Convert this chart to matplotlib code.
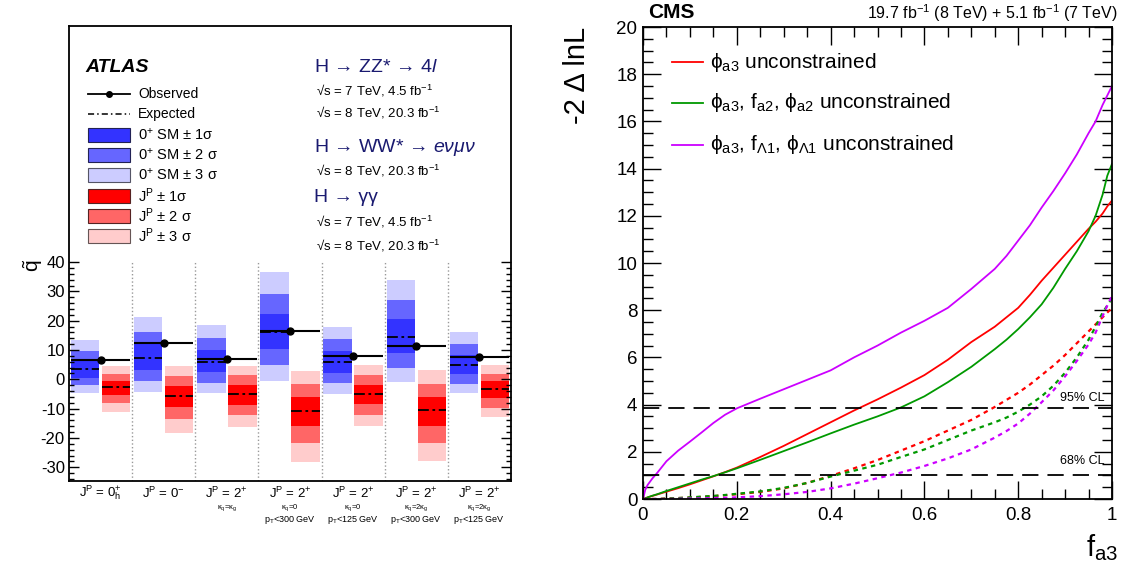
import numpy as np
import matplotlib
matplotlib.use("Agg")
import matplotlib.pyplot as plt
from matplotlib.patches import Rectangle
from matplotlib.lines import Line2D
from matplotlib.ticker import FixedLocator, MultipleLocator, FuncFormatter

plt.rcParams['font.family'] = ['Liberation Sans', 'DejaVu Sans']
plt.rcParams['mathtext.fontset'] = 'custom'
plt.rcParams['mathtext.rm'] = 'Liberation Sans'
plt.rcParams['mathtext.it'] = 'Liberation Sans:italic'
plt.rcParams['mathtext.bf'] = 'Liberation Sans:bold'
plt.rcParams['mathtext.sf'] = 'Liberation Sans'
plt.rcParams['mathtext.default'] = 'regular'
plt.rcParams['axes.unicode_minus'] = False

# ---- left panel data (ATLAS q~ per spin/parity hypothesis) ----
main_labels = [r'J$^{P}$ = 0$^{+}_{h}$', r'J$^{P}$ = 0$^{-}$', r'J$^{P}$ = 2$^{+}$',
               r'J$^{P}$ = 2$^{+}$', r'J$^{P}$ = 2$^{+}$', r'J$^{P}$ = 2$^{+}$', r'J$^{P}$ = 2$^{+}$']
sub_labels1 = ['', '', r'κ$_{q}$=κ$_{g}$', r'κ$_{q}$=0', r'κ$_{q}$=0', r'κ$_{q}$=2κ$_{g}$', r'κ$_{q}$=2κ$_{g}$']
sub_labels2 = ['', '', '', r'p$_{T}$<300 GeV', r'p$_{T}$<125 GeV', r'p$_{T}$<300 GeV', r'p$_{T}$<125 GeV']

observed = [6.5, 12.3, 7.1, 16.5, 8.1, 11.5, 7.7]
exp_sm = [3.5, 7.4, 5.9, 16.3, 6.0, 14.6, 4.9]
sm_3s_hi = [13.4, 21.3, 18.5, 36.6, 17.9, 33.9, 16.2]
sm_3s_lo = [-4.6, -4.2, -4.6, -0.5, -5.0, -0.8, -4.6]
sm_2s_hi = [9.7, 16.2, 14.1, 29.1, 13.8, 27.1, 12.1]
sm_2s_lo = [-1.9, -0.6, -1.3, 4.9, -1.1, 4.0, -1.6]
sm_1s_hi = [6.8, 12.0, 10.0, 22.3, 9.7, 20.6, 8.3]
sm_1s_lo = [0.6, 3.2, 2.5, 10.4, 2.2, 9.1, 1.7]

exp_alt = [-2.7, -5.6, -5.1, -10.7, -4.9, -10.6, -3.4]
alt_3s_hi = [4.6, 4.6, 4.6, 2.8, 4.9, 3.2, 4.9]
alt_3s_lo = [-11.1, -18.2, -16.2, -28.2, -15.9, -27.8, -12.7]
alt_2s_hi = [1.8, 1.1, 1.5, -1.6, 1.5, -1.6, 1.8]
alt_2s_lo = [-8.2, -13.5, -12.1, -21.6, -12.1, -21.6, -9.8]
alt_1s_hi = [-0.6, -2.3, -1.9, -5.9, -1.9, -5.9, -0.6]
alt_1s_lo = [-5.3, -9.3, -8.6, -15.8, -8.4, -15.8, -6.5]

# ---- right panel data (CMS -2 Delta lnL vs f_a3) ----
f_a3 = [0, 0.005, 0.01, 0.02, 0.03, 0.05, 0.075, 0.1, 0.125, 0.15, 0.175, 0.2, 0.25, 0.3,
        0.35, 0.4, 0.45, 0.5, 0.55, 0.6, 0.65, 0.7, 0.75, 0.775, 0.8, 0.825, 0.85, 0.875,
        0.9, 0.925, 0.95, 0.965, 0.98, 0.99, 1.0]
obs_phi = [0, 0.03, 0.07, 0.13, 0.19, 0.31, 0.46, 0.62, 0.79, 0.96, 1.14, 1.33, 1.78, 2.25,
           2.75, 3.25, 3.75, 4.22, 4.72, 5.25, 5.9, 6.65, 7.3, 7.7, 8.1, 8.65, 9.25, 9.8,
           10.35, 10.9, 11.45, 11.75, 12.1, 12.4, 12.65]
obs_fa2 = [0, 0.03, 0.07, 0.14, 0.2, 0.34, 0.5, 0.66, 0.82, 0.97, 1.13, 1.3, 1.66, 2.03,
           2.4, 2.78, 3.15, 3.5, 3.88, 4.35, 4.95, 5.6, 6.35, 6.75, 7.2, 7.7, 8.25, 8.95,
           9.75, 10.5, 11.35, 12.0, 12.9, 13.7, 14.2]
obs_fL1 = [0, 0.4, 0.6, 0.87, 1.1, 1.6, 2.05, 2.43, 2.82, 3.22, 3.57, 3.84, 4.25, 4.65,
           5.05, 5.45, 6.0, 6.5, 7.05, 7.55, 8.1, 8.9, 9.75, 10.3, 10.95, 11.6, 12.35, 13.05,
           13.8, 14.6, 15.5, 16.0, 16.7, 17.1, 17.5]
exp_phi = [0, 0, 0, 0, 0, 0.02, 0.04, 0.06, 0.09, 0.12, 0.16, 0.2, 0.3, 0.45,
           0.68, 0.98, 1.3, 1.65, 2.05, 2.45, 2.9, 3.35, 3.9, 4.2, 4.5, 4.85, 5.25, 5.65,
           6.1, 6.6, 7.1, 7.4, 7.7, 7.9, 8.1]
exp_fa2 = [0, 0, 0, 0, 0, 0.02, 0.04, 0.07, 0.1, 0.13, 0.17, 0.22, 0.32, 0.47,
           0.68, 0.95, 1.2, 1.45, 1.78, 2.1, 2.5, 2.9, 3.25, 3.45, 3.7, 4.0, 4.35, 4.8,
           5.35, 6.0, 6.75, 7.3, 7.9, 8.2, 8.5]
exp_fL1 = [0, 0, 0, 0, 0, 0, 0.01, 0.02, 0.03, 0.04, 0.05, 0.07, 0.12, 0.2,
           0.3, 0.45, 0.65, 0.88, 1.12, 1.4, 1.72, 2.1, 2.6, 2.88, 3.2, 3.62, 4.1, 4.6,
           5.2, 5.85, 6.55, 7.05, 7.75, 8.2, 8.6]

W, H = 1131, 569
def fx(px):
    return px / W
def fy(py):
    return 1 - py / H

fig = plt.figure(figsize=(11.31, 5.69), dpi=100)

# ================= left panel =================
ax1 = fig.add_axes([fx(69), fy(481), fx(511) - fx(69), fy(26) - fy(481)])
x = np.arange(len(observed))
blue = ['#ccccff', '#6666ff', '#3333ff']
red = ['#ffcccc', '#ff6666', '#ff0000']

for hi, lo, c in [(sm_3s_hi, sm_3s_lo, blue[0]), (sm_2s_hi, sm_2s_lo, blue[1]), (sm_1s_hi, sm_1s_lo, blue[2])]:
    ax1.bar(x + 0.255, np.array(hi) - np.array(lo), bottom=lo, width=0.45, color=c, lw=0)
for hi, lo, c in [(alt_3s_hi, alt_3s_lo, red[0]), (alt_2s_hi, alt_2s_lo, red[1]), (alt_1s_hi, alt_1s_lo, red[2])]:
    ax1.bar(x + 0.745, np.array(hi) - np.array(lo), bottom=lo, width=0.45, color=c, lw=0)

ax1.hlines(exp_sm, x + 0.03, x + 0.48, colors='black', lw=1.3, linestyles=[(0, (6, 2, 1.5, 2))])
ax1.hlines(exp_alt, x + 0.52, x + 0.97, colors='black', lw=1.3, linestyles=[(0, (6, 2, 1.5, 2))])
ax1.hlines(observed, x + 0.03, x + 0.97, colors='black', lw=1.5)
ax1.plot(x + 0.5, observed, 'o', color='black', ms=5)
ax1.vlines(x[1:], -34.7, 40, colors='#999999', linestyles=':', lw=1)

ax1.set_xlim(0, 7)
ax1.set_ylim(-34.7, 120.6)
ax1.set_xticks([])
ax1.yaxis.set_major_locator(FixedLocator(range(-30, 41, 10)))
ax1.yaxis.set_minor_locator(FixedLocator(np.arange(-34, 41, 2)))
ax1.tick_params(axis='y', which='both', direction='in', right=True, labelsize=12, width=1)
ax1.tick_params(axis='y', which='major', length=7, pad=3)
ax1.tick_params(axis='y', which='minor', length=3.5)
for s in ax1.spines.values():
    s.set_linewidth(1.3)

for i in range(len(observed)):
    xc = fx(69 + (i + 0.5) * 63.14)
    fig.text(xc, fy(493), main_labels[i], ha='center', va='center', fontsize=9.5)
    if sub_labels1[i]:
        fig.text(xc, fy(508), sub_labels1[i], ha='center', va='center', fontsize=5.5)
    if sub_labels2[i]:
        fig.text(xc, fy(520), sub_labels2[i], ha='center', va='center', fontsize=6.5)

fig.text(fx(33), fy(265), r'$\tilde{q}$', rotation=90, ha='center', va='center', fontsize=15)

# left legend
fig.text(fx(85), fy(67), 'ATLAS', fontsize=14, fontweight='bold', fontstyle='italic', va='center')
fig.add_artist(Line2D([fx(88), fx(130)], [fy(94), fy(94)], color='black', lw=1.3))
fig.add_artist(Line2D([fx(109)], [fy(94)], marker='o', color='black', ms=4))
fig.add_artist(Line2D([fx(88), fx(130)], [fy(114), fy(114)], color='black', lw=1.1, ls=(0, (4, 2, 1, 2))))
fig.text(fx(138), fy(94), 'Observed', fontsize=10, va='center')
fig.text(fx(138), fy(114), 'Expected', fontsize=10, va='center')
leg_boxes = [(blue[2], '#222255', r'0$^{+}$ SM ± 1σ', 135),
             (blue[1], '#222255', r'0$^{+}$ SM ± 2 σ', 155),
             (blue[0], '#555566', r'0$^{+}$ SM ± 3 σ', 175),
             (red[2], '#552222', r'J$^{P}$ ± 1σ', 196),
             (red[1], '#552222', r'J$^{P}$ ± 2 σ', 216),
             (red[0], '#665555', r'J$^{P}$ ± 3 σ', 236)]
for fc, ec, lab, yy in leg_boxes:
    fig.add_artist(Rectangle((fx(88), fy(yy + 7)), fx(130) - fx(88), fy(yy - 7) - fy(yy + 7),
                             facecolor=fc, edgecolor=ec, lw=0.8, transform=fig.transFigure))
    fig.text(fx(138), fy(yy), lab, fontsize=10.5, va='center')

navy = '#1a1a70'
fig.text(fx(314), fy(67), r'H → ZZ* → 4$\mathit{l}$', fontsize=14, color=navy, va='center')
fig.text(fx(316), fy(91), r'√s = 7 TeV, 4.5 fb$^{-1}$', fontsize=9.5, va='center')
fig.text(fx(316), fy(113), r'√s = 8 TeV, 20.3 fb$^{-1}$', fontsize=9.5, va='center')
fig.text(fx(314), fy(147), r'H → WW* → $\mathit{e\nu\mu\nu}$', fontsize=14, color=navy, va='center')
fig.text(fx(316), fy(171), r'√s = 8 TeV, 20.3 fb$^{-1}$', fontsize=9.5, va='center')
fig.text(fx(314), fy(198), r'H → γγ', fontsize=14, color=navy, va='center')
fig.text(fx(316), fy(222), r'√s = 7 TeV, 4.5 fb$^{-1}$', fontsize=9.5, va='center')
fig.text(fx(316), fy(246), r'√s = 8 TeV, 20.3 fb$^{-1}$', fontsize=9.5, va='center')

# ================= right panel =================
ax2 = fig.add_axes([fx(643), fy(499), fx(1112) - fx(643), fy(27) - fy(499)])
c_red, c_green, c_mag = '#ff0000', '#009900', '#cc00ff'
ax2.plot(f_a3, obs_phi, color=c_red, lw=1.3)
ax2.plot(f_a3, obs_fa2, color=c_green, lw=1.3)
ax2.plot(f_a3, obs_fL1, color=c_mag, lw=1.3)
ax2.plot(f_a3, exp_phi, color=c_red, lw=1.6, ls=(0, (2, 2)))
ax2.plot(f_a3, exp_fa2, color=c_green, lw=1.6, ls=(0, (2, 2)))
ax2.plot(f_a3, exp_fL1, color=c_mag, lw=1.6, ls=(0, (2, 2)))
ax2.axhline(1.0, color='black', lw=1.3, ls=(0, (9, 5)))
ax2.axhline(3.84, color='black', lw=1.3, ls=(0, (9, 5)))
ax2.text(0.985, 4.3, '95% CL', ha='right', va='center', fontsize=9)
ax2.text(0.985, 1.6, '68% CL', ha='right', va='center', fontsize=9)

ax2.set_xlim(0, 1)
ax2.set_ylim(0, 20)
ax2.xaxis.set_major_locator(MultipleLocator(0.2))
ax2.xaxis.set_minor_locator(MultipleLocator(0.05))
ax2.yaxis.set_major_locator(MultipleLocator(2))
ax2.yaxis.set_minor_locator(MultipleLocator(0.5))
ax2.xaxis.set_major_formatter(FuncFormatter(lambda v, p: '%g' % round(v, 2)))
ax2.tick_params(which='both', direction='in', top=True, right=True, labelsize=13.5, width=1)
ax2.tick_params(which='major', length=13)
ax2.tick_params(which='minor', length=7)
ax2.tick_params(axis='x', pad=6)
ax2.tick_params(axis='y', pad=4)
for s in ax2.spines.values():
    s.set_linewidth(1.3)

leg = [(c_red, r'ϕ$_{a3}$ unconstrained', 62),
       (c_green, r'ϕ$_{a3}$, f$_{a2}$, ϕ$_{a2}$ unconstrained', 103),
       (c_mag, r'ϕ$_{a3}$, f$_{Λ1}$, ϕ$_{Λ1}$ unconstrained', 145)]
for c, lab, yy in leg:
    fig.add_artist(Line2D([fx(672), fx(703)], [fy(yy), fy(yy)], color=c, lw=1.3))
    fig.text(fx(710), fy(yy), lab, fontsize=15, va='center')

fig.text(fx(648), fy(13), 'CMS', fontsize=15, fontweight='bold', va='center')
fig.text(fx(1118), fy(13), r'19.7 fb$^{-1}$ (8 TeV) + 5.1 fb$^{-1}$ (7 TeV)', ha='right', va='center', fontsize=11.5)
fig.text(fx(577), fy(75), '-2 Δ lnL', rotation=90, ha='center', va='center', fontsize=21)
fig.text(fx(1118), fy(548), r'f$_{a3}$', ha='right', va='center', fontsize=21)

fig.savefig('out.png', dpi=100)
